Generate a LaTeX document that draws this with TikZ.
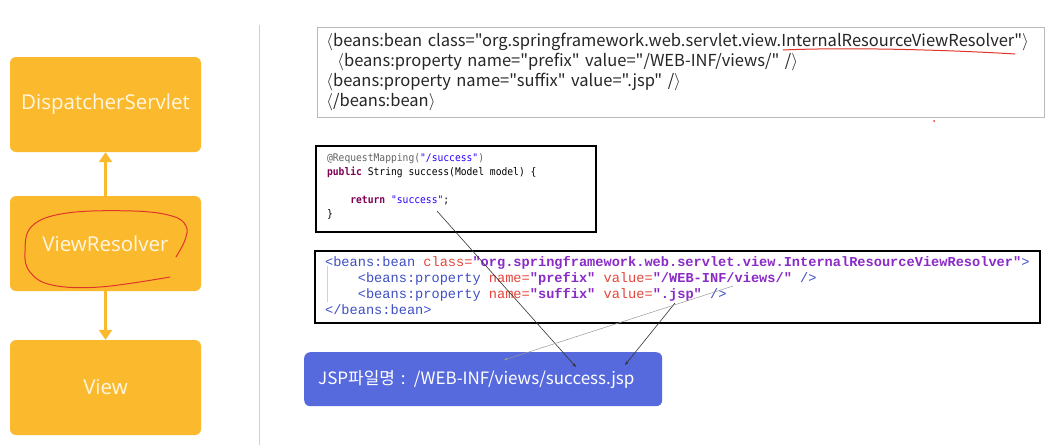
\documentclass[tikz,border=0pt]{standalone}
\usepackage{fontspec}
\setmainfont{Open Sans}
\setmonofont{Liberation Mono}
\newfontfamily\krfont{Noto Sans CJK KR}
\newfontfamily\consfont[FakeStretch=0.92]{DejaVu Sans Mono}
\usetikzlibrary{arrows.meta}
\definecolor{flow}{HTML}{FBBA2E}
\definecolor{flowtext}{HTML}{FFF6E2}
\definecolor{jspblue}{HTML}{5669DD}
\definecolor{sepline}{HTML}{BCD5EE}
\definecolor{pen}{HTML}{E0352B}
\definecolor{kwpurple}{HTML}{7F0055}
\definecolor{strblue}{HTML}{2A00FF}
\definecolor{annogray}{HTML}{646464}
\definecolor{tagblue}{HTML}{3F4FC4}
\definecolor{attrred}{HTML}{E5453B}
\definecolor{valpurple}{HTML}{8A2BC8}

\newcommand{\kw}[1]{\textcolor{kwpurple}{\bfseries #1}}
\newcommand{\str}[1]{\textcolor{strblue}{#1}}
\newcommand{\tg}[1]{\textcolor{tagblue}{#1}}
\newcommand{\at}[1]{\textcolor{attrred}{#1}}
\newcommand{\vl}[1]{\textcolor{valpurple}{\bfseries #1}}
\newcommand{\gap}{\hspace{\fontcharwd\font`x}}

\begin{document}
\begin{tikzpicture}[x=1pt, y=-1pt,
  flowbox/.style={rectangle, rounded corners=6pt, fill=flow, text=flowtext,
                  minimum width=191pt, minimum height=95pt,
                  font=\fontsize{20.5}{24}\selectfont},
  flowarrow/.style={line width=3.5pt, flow, -{Triangle[width=13pt,length=10pt]}},
  notebox/.style={draw=gray!55, line width=0.8pt, anchor=north west, align=left,
                  inner xsep=9pt, text=black!85,
                  font=\krfont\fontsize{16.5}{20}\selectfont},
  codebox/.style={draw=black, line width=2.2pt, anchor=north west, align=left},
  jspbox/.style={rectangle, rounded corners=6pt, fill=jspblue, text=white,
                 anchor=north west, align=left, inner xsep=14pt,
                 minimum width=358pt, minimum height=54pt,
                 font=\krfont\fontsize{17}{20}\selectfont},
  link/.style={black!80, line width=0.6pt, -{Stealth[length=4pt,width=3pt]}},
  faintlink/.style={black!40, line width=0.5pt, -{Stealth[length=4pt,width=3pt]}},
  redpen/.style={pen, line width=1pt, line cap=round},
]
\useasboundingbox[fill=white] (0,0) rectangle (1046,445);

% flow on the left
\node[flowbox] (dispatcher) at (105.5,104.5) {DispatcherServlet};
\node[flowbox] (resolver) at (105.5,243.5) {ViewResolver};
\node[flowbox] (view) at (105.5,387.5) {View};

\draw[flowarrow] (resolver) -- (dispatcher);
\draw[flowarrow] (resolver) -- (view);

\draw[redpen] plot[smooth, tension=0.65] coordinates {
  (176,257) (185,240) (186,226) (172,216) (133,211) (67,213) (32,226)
  (25,252) (30,272) (52,285) (100,287) (170,277)};

\draw[sepline, line width=1pt] (259,25) -- (259,445);

% xml note
\node[notebox, text width=709pt, minimum height=90pt] (xmlnote) at (317,27) {
  $\langle$beans:bean class="org.springframework.web.servlet.view.InternalResourceViewResolver"$\rangle$\\
  \hspace*{11pt}$\langle$beans:property name="prefix" value="/WEB-INF/views/" /$\rangle$\\
  $\langle$beans:property name="suffix" value=".jsp" /$\rangle$\\
  $\langle$/beans:bean$\rangle$};
\draw[redpen] (783,50) .. controls (850,47) and (950,50) .. (1015,54);
\fill[pen] (934,121) circle (1pt);

% controller code
\node[codebox, text width=258pt, inner xsep=11pt, minimum width=280pt, minimum height=86pt,
      font=\consfont\fontsize{10.5}{14}\selectfont] (controller) at (315,145) {
  \textcolor{annogray}{@RequestMapping(}\str{"/success"}\textcolor{annogray}{)}\\
  \kw{public}\gap String\gap success(Model\gap model)\gap\{\\
  \mbox{}\\
  \hspace*{4\fontcharwd\font`x}\kw{return}\gap\str{"success"};\\
  \}\vspace*{5pt}};

% resolver bean
\node[codebox, text width=705pt, inner xsep=10pt, minimum width=722pt, minimum height=72pt,
      font=\ttfamily\fontsize{13.65}{16}\selectfont] (beanxml) at (314,250) {
  \tg{<beans:bean}\gap\at{class=}\vl{"org.springframework.web.servlet.view.InternalResourceViewResolver"}\tg{>}\\
  \hspace*{2.4em}\tg{<beans:property}\gap\at{name=}\vl{"prefix"}\gap\at{value=}\vl{"/WEB-INF/views/"}\gap\tg{/>}\\
  \hspace*{2.4em}\tg{<beans:property}\gap\at{name=}\vl{"suffix"}\gap\at{value=}\vl{".jsp"}\gap\tg{/>}\\
  \tg{</beans:bean>}\vspace*{4pt}};
\draw[black!18, line width=0.6pt] (327,266) -- (327,302);

% resulting file name
\node[jspbox, text width=330pt] (jspname) at (304,352) {JSP파일명 : /WEB-INF/views/success.jsp};

\coordinate (srcreturn) at (437,211);
\coordinate (srcjsp) at (675,303);
\coordinate (srcprefix) at (733,286);
\coordinate (tipprefix) at (504,360);
\coordinate (tipname) at (576,367);
\coordinate (tipsuffix) at (625,365);

\draw[link] (srcreturn) -- (tipname);
\draw[link] (srcjsp) -- (tipsuffix);
\draw[faintlink] (srcprefix) -- (tipprefix);

\end{tikzpicture}
\end{document}
